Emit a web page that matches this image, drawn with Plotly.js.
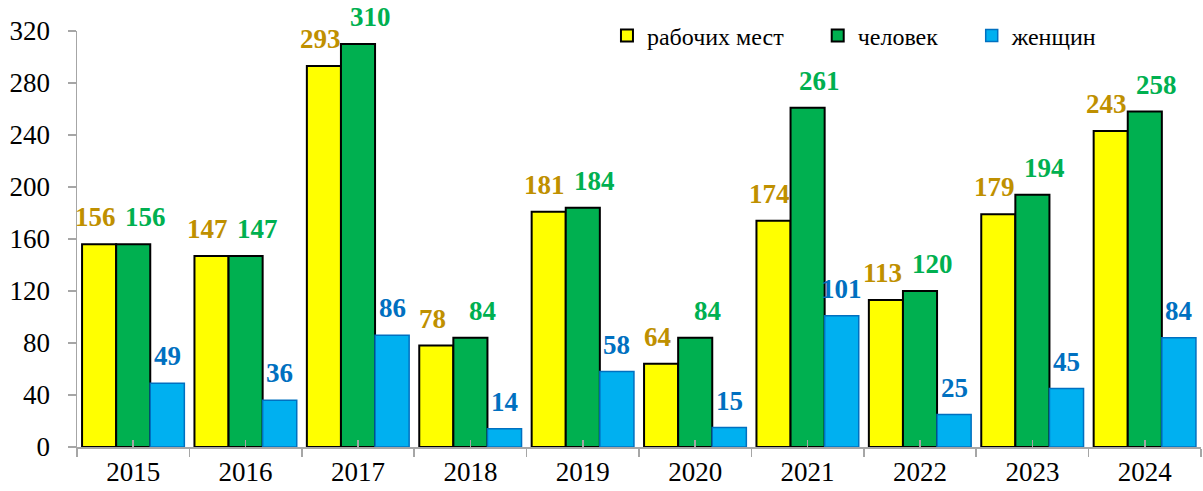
<!DOCTYPE html>
<html><head><meta charset="utf-8">
<script src="https://cdn.plot.ly/plotly-3.0.1.min.js"></script>
<style>html,body{margin:0;padding:0;background:#fff}#c{width:1203px;height:491px}</style>
</head><body><div id="c"></div>
<script>
const years = ['2015','2016','2017','2018','2019','2020','2021','2022','2023','2024'];
const jobs = [156,147,293,78,181,64,174,113,179,243];
const people = [156,147,310,84,184,84,261,120,194,258];
const women = [49,36,86,14,58,15,101,25,45,84];
const names = ['рабочих мест','человек','женщин'];

const serif = 'Liberation Serif';
const series = [
  {y:jobs, name:names[0], fill:'#FFFF00', line:'#000000', lw:2, tcol:'#BF9000', lg:'legend', dx:-38},
  {y:people, name:names[1], fill:'#00B050', line:'#000000', lw:2, tcol:'#00B050', lg:'legend2', dx:12},
  {y:women, name:names[2], fill:'#00B0F0', line:'#0070C0', lw:1.5, tcol:'#0070C0', lg:'legend3', dx:34}
];
const data = series.map(s => ({type:'bar', x:years, y:s.y, name:s.name, legend:s.lg,
  marker:{color:s.fill, line:{color:s.line, width:s.lw}}, hoverinfo:'skip'}));
data.push({type:'bar', x:years, y:years.map(()=>0), xaxis:'x2', showlegend:false, hoverinfo:'skip', marker:{color:'rgba(0,0,0,0)'}});

const annotations = [];
series.forEach(s => {
  years.forEach((yr, i) => {
    annotations.push({x:i, y:s.y[i], xref:'x', yref:'y', text:String(s.y[i]), showarrow:false,
      xanchor:'center', yanchor:'bottom', xshift:s.dx, yshift:10,
      font:{family:serif, size:27, color:s.tcol, weight:'bold'}});
  });
});

function lg(x){
  return {orientation:'h', x:x, y:0.988, xanchor:'left', yanchor:'middle',
    font:{family:serif, size:24, color:'#000'}, bgcolor:'rgba(0,0,0,0)', itemwidth:30};
}
const layout = {
  width:1203, height:491,
  margin:{l:77, r:2, t:31, b:44},
  paper_bgcolor:'#fff', plot_bgcolor:'#fff',
  barmode:'group', bargap:0.09, bargroupgap:0,
  font:{family:serif, size:27, color:'#000'},
  annotations:annotations,
  xaxis:{type:'category', categoryorder:'array', categoryarray:years, range:[-0.5, years.length-0.5],
    showline:true, linecolor:'#A6A6A6', linewidth:1.5,
    ticks:'outside', tickson:'boundaries', ticklen:8, tickcolor:'#A6A6A6', tickwidth:1.5,
    tickfont:{family:serif, size:27, color:'#000'}, showgrid:false, zeroline:false},
  xaxis2:{type:'category', overlaying:'x', matches:'x', side:'bottom', showticklabels:false,
    ticks:'inside', ticklen:7, tickcolor:'#A6A6A6', tickwidth:1.5, showline:false, showgrid:false, zeroline:false},
  yaxis:{range:[0,320], dtick:40, tick0:0, showline:true, linecolor:'#A6A6A6', linewidth:1.5,
    ticks:'outside', ticklen:8, tickcolor:'#A6A6A6', tickwidth:1.5, ticklabelstandoff:12,
    tickfont:{family:serif, size:27, color:'#000'}, showgrid:false, zeroline:false},
  legend:lg(0.4715), legend2:lg(0.659), legend3:lg(0.796),
  showlegend:true
};
Plotly.newPlot('c', data, layout, {displayModeBar:false, staticPlot:true});
</script></body></html>
